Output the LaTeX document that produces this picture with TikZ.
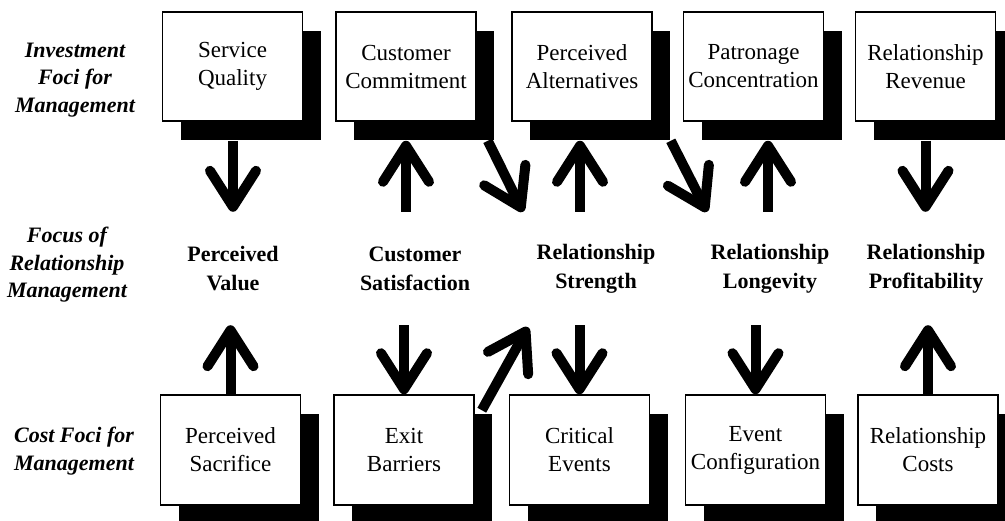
\documentclass[tikz,border=0pt]{standalone}
\usepackage{fontspec}
\setmainfont{Liberation Serif}
\usetikzlibrary{arrows.meta,shadows,calc}
\begin{document}
\begin{tikzpicture}[x=1pt,y=-1pt,
  box/.style={draw, line width=1.6pt, fill=white, minimum width=140pt, minimum height=109pt,
    inner sep=0pt, align=center, font=\fontsize{23}{28}\selectfont,
    drop shadow={shadow xshift=18pt, shadow yshift=-19pt, opacity=1, fill=black}},
  mid/.style={align=center, minimum height=113pt, inner sep=0pt, font=\fontsize{22}{29}\selectfont\bfseries},
  side/.style={align=center, inner sep=0pt, font=\fontsize{22}{27.5}\selectfont\bfseries\itshape},
  arr/.style={line width=10pt, -{Straight Barb[length=36pt,width=46pt,round]}}]
\useasboundingbox (0,0) rectangle (1005,520);
\clip (0,0) rectangle (1005,520);
% side labels
\node[side] (l1) at (75,80) {Investment\\Foci for\\Management};
\node[side] (l2) at (67,265) {Focus of\\Relationship\\Management};
\node[side] (l3) at (74,451) {Cost Foci for\\Management};
% top boxes
\node[box] (t1) at (232.5,66.5) {Service\\Quality};
\node[box] (t2) at (406,66.5) {Customer\\Commitment};
\node[box] (t3) at (582,66.5) {Perceived\\Alternatives};
\node[box] (t4) at (753.5,66.5) {Patronage\\Concentration};
\node[box] (t5) at (925.5,66.5) {Relationship\\Revenue};
% middle labels
\node[mid] (m1) at (233,268.5) {Perceived\\Value};
\node[mid] (m2) at (415,268.5) {Customer\\Satisfaction};
\node[mid] (m3) at (596,268.5) {Relationship\\Strength};
\node[mid] (m4) at (770,268.5) {Relationship\\Longevity};
\node[mid] (m5) at (926,268.5) {Relationship\\Profitability};
% bottom boxes
\node[box, minimum height=110pt] (b1) at (230.5,450) {Perceived\\Sacrifice};
\node[box, minimum height=110pt] (b2) at (404,450) {Exit\\Barriers};
\node[box, minimum height=110pt] (b3) at (579.5,450) {Critical\\Events};
\node[box, minimum height=110pt] (b4) at (755.5,450) {Event\\Configuration};
\node[box, minimum height=110pt] (b5) at (928,450) {Relationship\\Costs};
% top arrows
\draw[arr] ([xshift=0.5pt,yshift=-19pt]t1.south) -- ([xshift=0.5pt]t1.south |- m1.north);
\draw[arr] (t2.south |- m2.north) -- ([yshift=-19pt]t2.south);
\draw[arr] ([xshift=-2pt]t3.south |- m3.north) -- ([xshift=-2pt,yshift=-19pt]t3.south);
\draw[arr] ([xshift=14.5pt]t4.south |- m4.north) -- ([xshift=14.5pt,yshift=-19pt]t4.south);
\draw[arr] ([yshift=-19pt]t5.south) -- (t5.south |- m5.north);
% diagonal arrows
\draw[arr] ([xshift=11pt,yshift=-19pt]t2.south east) -- ([xshift=-73pt]m3.north);
\draw[arr] ([xshift=18pt,yshift=-19pt]t3.south east) -- ([xshift=-63pt]m4.north);
\draw[arr] ([xshift=7pt,yshift=-16pt]b2.north east) -- ([xshift=-68pt,yshift=-2pt]m3.south);
% bottom arrows
\draw[arr] (b1.north) -- (b1.north |- m1.south);
\draw[arr] (b2.north |- m2.south) -- (b2.north);
\draw[arr] (b3.north |- m3.south) -- (b3.north);
\draw[arr] (b4.north |- m4.south) -- (b4.north);
\draw[arr] (b5.north) -- (b5.north |- m5.south);
\end{tikzpicture}
\end{document}
